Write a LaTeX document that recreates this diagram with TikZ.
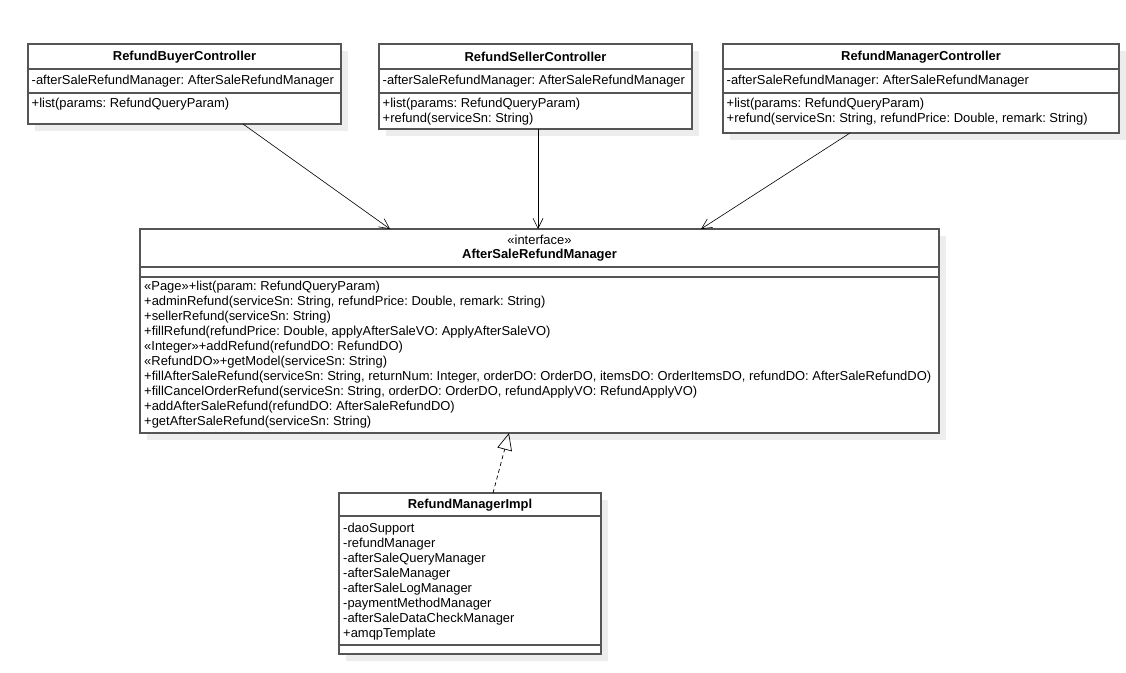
\documentclass[tikz,border=0pt]{standalone}
\usepackage{fontspec}
\setmainfont{Liberation Sans}
\usetikzlibrary{arrows.meta}
\definecolor{boxc}{HTML}{555555}
\definecolor{shadowc}{HTML}{EDEDED}
\frenchspacing
\begin{document}
\begin{tikzpicture}[x=1pt,y=-1pt,
  cls/.style={draw=boxc, line width=1.2pt, fill=white, anchor=north west, inner sep=0pt, outer sep=0pt},
  shd/.style={fill=shadowc, draw=none},
  sep/.style={draw=boxc, line width=1.2pt},
  txt/.style={anchor=west, inner sep=0pt, font=\fontsize{12.95}{15}\selectfont},
  ttl/.style={anchor=center, inner sep=0pt, font=\fontsize{12.95}{15}\selectfont\bfseries},
  stereo/.style={anchor=center, inner sep=0pt, font=\fontsize{12.95}{15}\selectfont},
  assoc/.style={-{Straight Barb[length=10pt,width=10pt]}, line width=0.6pt},
  realz/.style={dash pattern=on 4pt off 3pt, line width=0.7pt, -{Triangle[open, length=17pt, width=15pt, line width=0.7pt]}}
]
\useasboundingbox[fill=white] (0,0) rectangle (1126,672);

% shadows
\fill[shd] (35,51) rectangle (348,131);
\fill[shd] (386,51) rectangle (699,136);
\fill[shd] (730,51) rectangle (1126,140);
\fill[shd] (147,236) rectangle (946,440);
\fill[shd] (346,500) rectangle (608,661);

% RefundBuyerController
\node[cls, minimum width=313pt, minimum height=80pt] (b1) at (28,44) {};
\draw[sep] (b1.west |- 0,69) -- (b1.east |- 0,69);
\draw[sep] (b1.west |- 0,93) -- (b1.east |- 0,93);
\node[ttl] (b1t) at (184.5,57) {RefundBuyerController};
\node[txt] (b1a) at (31.5,81) {-afterSaleRefundManager: AfterSaleRefundManager};
\node[txt] (b1m1) at (31.5,104.5) {+list(params: RefundQueryParam)};

% RefundSellerController
\node[cls, minimum width=313pt, minimum height=85pt] (b2) at (379,44) {};
\draw[sep] (b2.west |- 0,69) -- (b2.east |- 0,69);
\draw[sep] (b2.west |- 0,93) -- (b2.east |- 0,93);
\node[ttl] (b2t) at (535.5,57) {RefundSellerController};
\node[txt] (b2a) at (382.5,81) {-afterSaleRefundManager: AfterSaleRefundManager};
\node[txt] (b2m1) at (382.5,104.5) {+list(params: RefundQueryParam)};
\node[txt] (b2m2) at (382.5,119) {+refund(serviceSn: String)};

% RefundManagerController
\node[cls, minimum width=396pt, minimum height=89pt] (b3) at (723,44) {};
\draw[sep] (b3.west |- 0,69) -- (b3.east |- 0,69);
\draw[sep] (b3.west |- 0,93) -- (b3.east |- 0,93);
\node[ttl] (b3t) at (921,57) {RefundManagerController};
\node[txt] (b3a) at (726.5,81) {-afterSaleRefundManager: AfterSaleRefundManager};
\node[txt] (b3m1) at (726.5,104.5) {+list(params: RefundQueryParam)};
\node[txt] (b3m2) at (726.5,119) {+refund(serviceSn: String, refundPrice: Double, remark: String)};

% AfterSaleRefundManager interface
\node[cls, minimum width=799pt, minimum height=204pt] (im) at (140,229) {};
\draw[sep] (im.west |- 0,267) -- (im.east |- 0,267);
\draw[sep] (im.west |- 0,277) -- (im.east |- 0,277);
\node[stereo] (ims) at (539.5,240) {«interface»};
\node[ttl] (imt) at (539.5,255) {AfterSaleRefundManager};
\node[txt] (m1) at (144,287) {«Page»+list(param: RefundQueryParam)};
\node[txt] (m2) at (144,302) {+adminRefund(serviceSn: String, refundPrice: Double, remark: String)};
\node[txt] (m3) at (144,317) {+sellerRefund(serviceSn: String)};
\node[txt] (m4) at (144,332) {+fillRefund(refundPrice: Double, applyAfterSaleVO: ApplyAfterSaleVO)};
\node[txt] (m5) at (144,347) {«Integer»+addRefund(refundDO: RefundDO)};
\node[txt] (m6) at (144,362) {«RefundDO»+getModel(serviceSn: String)};
\node[txt] (m7) at (144,377) {+fillAfterSaleRefund(serviceSn: String, returnNum: Integer, orderDO: OrderDO, itemsDO: OrderItemsDO, refundDO: AfterSaleRefundDO)};
\node[txt] (m8) at (144,392) {+fillCancelOrderRefund(serviceSn: String, orderDO: OrderDO, refundApplyVO: RefundApplyVO)};
\node[txt] (m9) at (144,407) {+addAfterSaleRefund(refundDO: AfterSaleRefundDO)};
\node[txt] (m10) at (144,422) {+getAfterSaleRefund(serviceSn: String)};

% RefundManagerImpl
\node[cls, minimum width=262pt, minimum height=161pt] (ri) at (339,493) {};
\draw[sep] (ri.west |- 0,516) -- (ri.east |- 0,516);
\draw[sep] (ri.west |- 0,645) -- (ri.east |- 0,645);
\node[ttl] (rit) at (470,505.5) {RefundManagerImpl};
\node[txt] (a1) at (343,529) {-daoSupport};
\node[txt] (a2) at (343,544) {-refundManager};
\node[txt] (a3) at (343,559) {-afterSaleQueryManager};
\node[txt] (a4) at (343,574) {-afterSaleManager};
\node[txt] (a5) at (343,589) {-afterSaleLogManager};
\node[txt] (a6) at (343,604) {-paymentMethodManager};
\node[txt] (a7) at (343,619) {-afterSaleDataCheckManager};
\node[txt] (a8) at (343,634) {+amqpTemplate};

% connectors
\draw[assoc] ([xshift=215pt]b1.south west) -- ([xshift=250pt]im.north west);
\draw[assoc] ([xshift=159pt]b2.south west) -- ([xshift=398pt]im.north west);
\draw[assoc] ([xshift=127pt]b3.south west) -- ([xshift=561pt]im.north west);
\draw[realz] ([xshift=154pt]ri.north west) -- ([xshift=369pt]im.south west);
\end{tikzpicture}
\end{document}
